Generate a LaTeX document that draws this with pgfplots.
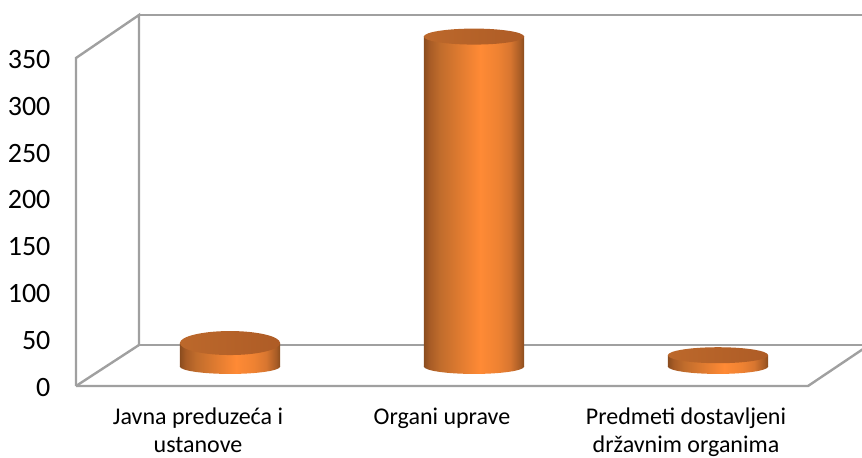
\documentclass[border=0pt]{standalone}
\usepackage{pgfplots}
\pgfplotsset{compat=1.18}
\usepackage{fontspec}
\setmainfont{Carlito}
\definecolor{framegray}{HTML}{A0A0A0}
\definecolor{topL}{HTML}{BC682B}
\definecolor{topR}{HTML}{AE5C26}
\definecolor{s1}{HTML}{8A4C1E}
\definecolor{s2}{HTML}{A85C26}
\definecolor{s3}{HTML}{C06C2C}
\definecolor{s4}{HTML}{E07B30}
\definecolor{s5}{HTML}{FF8A35}
\definecolor{s6}{HTML}{EE8232}
\definecolor{s7}{HTML}{D87630}
\pgfdeclarehorizontalshading{cyl}{100bp}{
  color(0bp)=(s1); color(25bp)=(s1);
  color(28bp)=(s2); color(33bp)=(s3);
  color(43bp)=(s4); color(53bp)=(s5);
  color(62bp)=(s6); color(68bp)=(s7);
  color(73bp)=(s2); color(75bp)=(s1); color(100bp)=(s1)}
\pgfdeclareplotmark{cylbase}{\shade[draw=none,shading=cyl,rotate=2] (0pt,0pt) ellipse (37.6pt and 5.6pt);}
\pgfdeclareplotmark{cyltopA}{\shade[draw=none,left color=topL,right color=topR,rotate=3.5] (0pt,0pt) ellipse (37.6pt and 9pt);}
\pgfdeclareplotmark{cyltopB}{\shade[draw=none,left color=topL,right color=topR,rotate=3.5] (0pt,0pt) ellipse (37.6pt and 6pt);}
\begin{document}
\begin{tikzpicture}
\path[use as bounding box] (0pt,0pt) rectangle (646.5pt,342.75pt);
\begin{scope}[x=0.75pt,y=0.75pt,draw=framegray,line width=1.8pt]
\clip (0,0) rectangle (862,457);
\draw (139,112) -- (876,112);
\draw (76,71) -- (76,399) -- (139,442) -- (139,112);
\draw (139,442) -- (880,442);
\draw (76,71) -- (139,112);
\draw (76,71) -- (808,71) -- (872,114);
\end{scope}
\begin{axis}[
  at={(57pt,53.25pt)}, anchor=south west,
  scale only axis, width=549pt, height=246pt,
  xmin=-0.5, xmax=2.5, ymin=0, ymax=350,
  axis line style={draw=none}, tick style={draw=none},
  xtick={0,1,2},
  xticklabels={{Javna preduzeća i\\ustanove},{Organi uprave},{Predmeti dostavljeni\\državnim organima}},
  xticklabel style={align=center,font=\fontsize{18}{20.5}\selectfont,inner sep=0pt,anchor=north,yshift=-16.5pt},
  ytick={0,50,100,150,200,250,300,350},
  yticklabel style={font=\fontsize{21}{24}\selectfont,inner sep=0pt,anchor=east,xshift=-19pt,yshift=-1pt},
  /pgf/number format/assume math mode=true,
]
\addplot[draw=none] coordinates {(0,0)};
\end{axis}
\begin{axis}[
  at={(81pt,67.9pt)}, anchor=south west,
  scale only axis, width=549pt, height=246pt,
  xmin=-0.5, xmax=2.5, ymin=0, ymax=350,
  hide axis, clip=false,
]
\addplot[only marks,mark=cylbase] coordinates {(0,0) (1,0) (2,0)};
\addplot[ybar,bar width=75.2pt,bar shift=0pt,draw=none,shading=cyl] coordinates {(0,25)};
\addplot[ybar,bar width=75.2pt,bar shift=0pt,draw=none,shading=cyl] coordinates {(1,352)};
\addplot[ybar,bar width=75.2pt,bar shift=0pt,draw=none,shading=cyl] coordinates {(2,12)};
\addplot[only marks,mark=cyltopA] coordinates {(0,25)};
\addplot[only marks,mark=cyltopB] coordinates {(1,352) (2,12)};
\end{axis}
\end{tikzpicture}
\end{document}
